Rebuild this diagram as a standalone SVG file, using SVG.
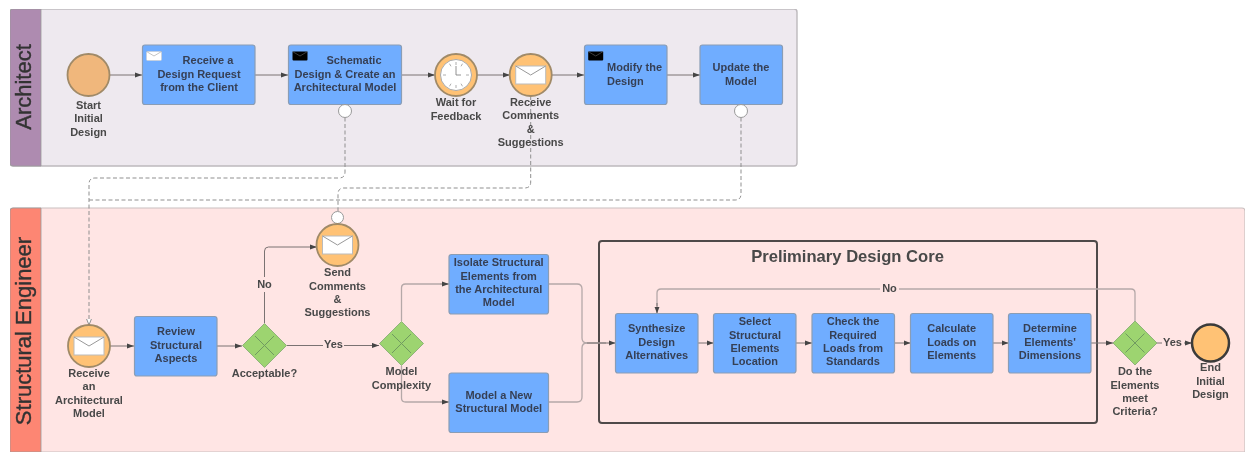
<svg xmlns="http://www.w3.org/2000/svg" xmlns:xlink="http://www.w3.org/1999/xlink" width="1245" height="452" viewBox="0 0 1245 452">
<style>
text{font-family:"Liberation Sans",Arial,sans-serif;font-weight:700;font-size:11px;fill:#484848;text-anchor:middle}
.t{fill:#363f55}
.lane{font-size:22px;font-weight:400;fill:#333;stroke:#333;stroke-width:.4}
.task{fill:#70adff;stroke:#8a9db5;stroke-width:1.2}
.ev{fill:#ffc274;stroke:#a08a68;stroke-width:1.8}
.gw{fill:#9dd470;stroke:#8fb37a;stroke-width:1}
.gx{stroke:#6f9a60;stroke-width:1;fill:none}
.flow{fill:none;stroke:#7a7272;stroke-width:1;marker-end:url(#arr)}
.flow2{fill:none;stroke:#b5a8a8;stroke-width:1.3}
.dash{fill:none;stroke:#8f8f8f;stroke-width:1;stroke-dasharray:4 2.5}
.mark{fill:#fff;stroke:#999;stroke-width:1}
.lb{fill:#ffe5e4}
</style>
<defs>
<marker id="arr" markerWidth="8" markerHeight="6" refX="7" refY="3" orient="auto" markerUnits="userSpaceOnUse"><path d="M0 0.4L7 3L0 5.6Z" fill="#444"/></marker>
<marker id="open" markerWidth="8" markerHeight="8" refX="6.500" refY="3" orient="auto" markerUnits="userSpaceOnUse"><path d="M0 0.4L6.500 3L0 5.6Z" fill="#fff" stroke="#8f8f8f"/></marker>
<g id="env"><rect x="-15" y="-9" width="30" height="18" fill="#fff" stroke="#bbb"/><path d="M-15 -9L0 0L15 -9" fill="none" stroke="#999"/></g>
<g id="envW"><rect x="-7.500" y="-4.500" width="15" height="9" rx="1" fill="#fff" stroke="#ccc" stroke-width=".6"/><path d="M-7.500 -4.500L0 0L7.500 -4.500" fill="none" stroke="#aaa" stroke-width=".7"/></g>
<g id="envB"><rect x="-7.500" y="-4.500" width="15" height="9" rx="1" fill="#000"/><path d="M-7.500 -4.500L0 0L7.500 -4.500" fill="none" stroke="#555" stroke-width=".7"/></g>
<filter id="soft" x="0" y="0" width="100%" height="100%"><feGaussianBlur stdDeviation="0.6"/></filter>
</defs>
<rect width="1245" height="452" fill="#fff"/>
<g filter="url(#soft)">
<g id="lane-architect">
<rect x="10" y="9" width="787" height="157" rx="3" fill="#eee9ef" stroke="#bdb9bd" stroke-width="1.4"/>
<path d="M13 9H41V166H13a3 3 0 0 1-3-3V12a3 3 0 0 1 3-3Z" fill="#ae8bb0" stroke="#999" stroke-width=".8"/>
<text class="lane" transform="translate(30.500,87) rotate(-90)">Architect</text>
</g>
<g id="lane-structural">
<path d="M10 452V211a3 3 0 0 1 3-3H1242a3 3 0 0 1 3 3V452Z" fill="#ffe5e4" stroke="#c9c0c0" stroke-width="1.2"/>
<path d="M41 208V452H10V211a3 3 0 0 1 3-3Z" fill="#fd8673" stroke="#999" stroke-width=".8"/>
<text class="lane" transform="translate(30.500,331) rotate(-90)">Structural Engineer</text>
</g>
<g id="core-group">
<rect x="599" y="241" width="498" height="182" rx="3" fill="none" stroke="#4f4a4a" stroke-width="2"/>
<text x="847.500" y="262" style="font-size:16.600px">Preliminary Design Core</text>
</g>
<g id="connectors">
<path class="flow" d="M110 75H142"/>
<path class="flow" d="M255 75H288"/>
<path class="flow" d="M402 75H435"/>
<path class="flow" d="M477 75H510"/>
<path class="flow" d="M552 75H584"/>
<path class="flow" d="M667 75H700"/>
<path class="flow" d="M110 346H134"/>
<path class="flow" d="M217 346H242"/>
<path class="flow" d="M287 345.500H379"/>
<path class="flow" d="M264.500 323V251Q264.500 247 268.500 247H317"/>
<path class="flow2" d="M401.500 321V288Q401.500 284 405.500 284H440"/><path class="flow" d="M440 284H449"/>
<path class="flow2" d="M401.500 366V398Q401.500 402 405.500 402H440"/><path class="flow" d="M440 402H449"/>
<path class="flow2" d="M548.500 284H577Q582 284 582 289V338Q582 343 587 343H606"/>
<path class="flow2" d="M548.500 402H577Q582 402 582 397V348Q582 343 587 343"/>
<path class="flow" d="M587 343H615.500"/>
<path class="flow" d="M698 343H713.500"/>
<path class="flow" d="M796 343H812"/>
<path class="flow" d="M894.500 343H910.500"/>
<path class="flow" d="M993 343H1008.500"/>
<path class="flow" d="M1091 343H1113"/>
<path class="flow" d="M1157 343H1192"/>
<path class="flow2" d="M1135 321V293Q1135 289 1131 289H661Q657 289 657 293V306"/><path class="flow" d="M657 303V313.500"/>
<path class="dash" d="M345 117.500V172Q345 178 339 178H95Q89 178 89 184V325" marker-end="url(#open)"/>
<path class="dash" d="M530.700 96V182Q530.700 188 524.700 188H344Q338 188 338 194V211"/>
<path class="dash" d="M741 117.500V194Q741 200 735 200H89"/>
</g>
<g id="start"><circle class="ev" cx="88.500" cy="75" r="21" style="fill:#f0b77c"/><text x="88.500" y="109">Start</text><text x="88.500" y="122">Initial</text><text x="88.500" y="135.500">Design</text></g>
<g id="task-receive"><rect class="task" x="142.500" y="45" width="112.500" height="59.500" rx="2.500"/><use href="#envW" x="154" y="56"/><text class="t" x="208" y="64">Receive a</text><text class="t" x="199" y="77.500">Design Request</text><text class="t" x="199" y="90.500">from the Client</text></g>
<g id="task-schematic"><rect class="task" x="288.500" y="45" width="113" height="59.500" rx="2.500"/><use href="#envB" x="300" y="56"/><text class="t" x="354" y="64">Schematic</text><text class="t" x="345" y="77.500">Design &amp; Create an</text><text class="t" x="345" y="90.500">Architectural Model</text><circle class="mark" cx="345" cy="111" r="6.500"/></g>
<g id="wait"><circle cx="456" cy="75" r="21" style="fill:#ffc274;stroke:#a08a68;stroke-width:1.8"/><circle cx="456" cy="75" r="15.500" fill="#fff" stroke="#aaa"/><path d="M456 62V65M456 85V88M443 75H446M466 75H469M449.500 63.700L451 66.300M461 83.700L462.500 86.300M449.500 86.300L451 83.700M461 66.300L462.500 63.700" stroke="#999" stroke-width=".8" fill="none"/><path d="M456 66V75H461" stroke="#777" stroke-width=".8" fill="none"/><text x="456" y="106">Wait for</text><text x="456" y="119.500">Feedback</text></g>
<g id="receive-comments"><circle class="ev" cx="530.700" cy="75" r="21"/><use href="#env" x="530.700" y="75"/><text x="530.700" y="106">Receive</text><text x="530.700" y="119">Comments</text><text x="530.700" y="132.500">&amp;</text><text x="530.700" y="146">Suggestions</text></g>
<g id="task-modify"><rect class="task" x="584.500" y="45" width="82.500" height="59.500" rx="2.500"/><use href="#envB" x="595.700" y="56"/><text class="t" x="607" y="71" style="text-anchor:start">Modify the</text><text class="t" x="607" y="84.500" style="text-anchor:start">Design</text></g>
<g id="task-update"><rect class="task" x="700" y="45" width="82.500" height="59.500" rx="2.500"/><text class="t" x="741" y="71">Update the</text><text class="t" x="741" y="84.500">Model</text><circle class="mark" cx="741" cy="111" r="6.500"/></g>
<g id="receive-model"><circle class="ev" cx="89" cy="346" r="21"/><use href="#env" x="89" y="346"/><text x="89" y="377">Receive</text><text x="89" y="390">an</text><text x="89" y="403.500">Architectural</text><text x="89" y="417">Model</text></g>
<g id="task-review"><rect class="task" x="134.500" y="316.500" width="82.500" height="59.500" rx="2.500"/><text class="t" x="176" y="335">Review</text><text class="t" x="176" y="348.500">Structural</text><text class="t" x="176" y="361.500">Aspects</text></g>
<g id="gw-acceptable"><path class="gw" d="M264.500 323.500L286.500 345.500L264.500 367.500L242.500 345.500Z"/><path class="gx" d="M255 336L274 355M274 336L255 355"/><text x="264.500" y="377">Acceptable?</text></g>
<g id="send-comments"><circle class="mark" cx="337.500" cy="217.500" r="6"/><circle class="ev" cx="337.500" cy="245" r="21"/><use href="#env" x="337.500" y="245"/><text x="337.500" y="276">Send</text><text x="337.500" y="289.500">Comments</text><text x="337.500" y="303">&amp;</text><text x="337.500" y="316">Suggestions</text></g>
<g id="gw-complexity"><path class="gw" d="M401.500 321.500L423.500 343.500L401.500 365.500L379.500 343.500Z"/><path class="gx" d="M392 334L411 353M411 334L392 353"/><text x="401.500" y="375">Model</text><text x="401.500" y="388.500">Complexity</text></g>
<g id="task-isolate"><rect class="task" x="449" y="254.500" width="99.500" height="59.500" rx="2.500"/><text class="t" x="498.700" y="266">Isolate Structural</text><text class="t" x="498.700" y="279.500">Elements from</text><text class="t" x="498.700" y="292.500">the Architectural</text><text class="t" x="498.700" y="306">Model</text></g>
<g id="task-new"><rect class="task" x="449" y="373" width="99.500" height="59.500" rx="2.500"/><text class="t" x="498.700" y="399">Model a New</text><text class="t" x="498.700" y="412">Structural Model</text></g>
<g id="task-synth"><rect class="task" x="615.500" y="313.500" width="82.500" height="59.500" rx="2.500"/><text class="t" x="656.700" y="332">Synthesize</text><text class="t" x="656.700" y="345.500">Design</text><text class="t" x="656.700" y="358.500">Alternatives</text></g>
<g id="task-select"><rect class="task" x="713.500" y="313.500" width="82.500" height="59.500" rx="2.500"/><text class="t" x="755" y="325">Select</text><text class="t" x="755" y="338.500">Structural</text><text class="t" x="755" y="351.500">Elements</text><text class="t" x="755" y="365">Location</text></g>
<g id="task-check"><rect class="task" x="812" y="313.500" width="82.500" height="59.500" rx="2.500"/><text class="t" x="853" y="325">Check the</text><text class="t" x="853" y="338.500">Required</text><text class="t" x="853" y="351.500">Loads from</text><text class="t" x="853" y="365">Standards</text></g>
<g id="task-calc"><rect class="task" x="910.500" y="313.500" width="82.500" height="59.500" rx="2.500"/><text class="t" x="951.700" y="332">Calculate</text><text class="t" x="951.700" y="345.500">Loads on</text><text class="t" x="951.700" y="358.500">Elements</text></g>
<g id="task-determine"><rect class="task" x="1008.500" y="313.500" width="82.500" height="59.500" rx="2.500"/><text class="t" x="1050" y="332">Determine</text><text class="t" x="1050" y="345.500">Elements'</text><text class="t" x="1050" y="358.500">Dimensions</text></g>
<g id="gw-criteria"><path class="gw" d="M1135 321L1157 343L1135 365L1113 343Z"/><path class="gx" d="M1125.500 333.500L1144.500 352.500M1144.500 333.500L1125.500 352.500"/><text x="1135" y="375">Do the</text><text x="1135" y="388.500">Elements</text><text x="1135" y="402">meet</text><text x="1135" y="415">Criteria?</text></g>
<g id="end"><circle cx="1210.500" cy="343" r="18.500" fill="#ffc274" stroke="#3a3a3a" stroke-width="2.500"/><text x="1210.500" y="371">End</text><text x="1210.500" y="385">Initial</text><text x="1210.500" y="398">Design</text></g>
<g id="edge-labels">
<rect class="lb" x="255" y="277" width="19" height="15"/><text x="264.500" y="288">No</text>
<rect class="lb" x="323" y="337" width="21" height="14"/><text x="333.500" y="348">Yes</text>
<rect class="lb" x="880" y="282" width="19" height="14"/><text x="889.500" y="292">No</text>
<rect class="lb" x="1162" y="335" width="22" height="14"/><text x="1172.500" y="346">Yes</text>
</g>
</g>
</svg>
